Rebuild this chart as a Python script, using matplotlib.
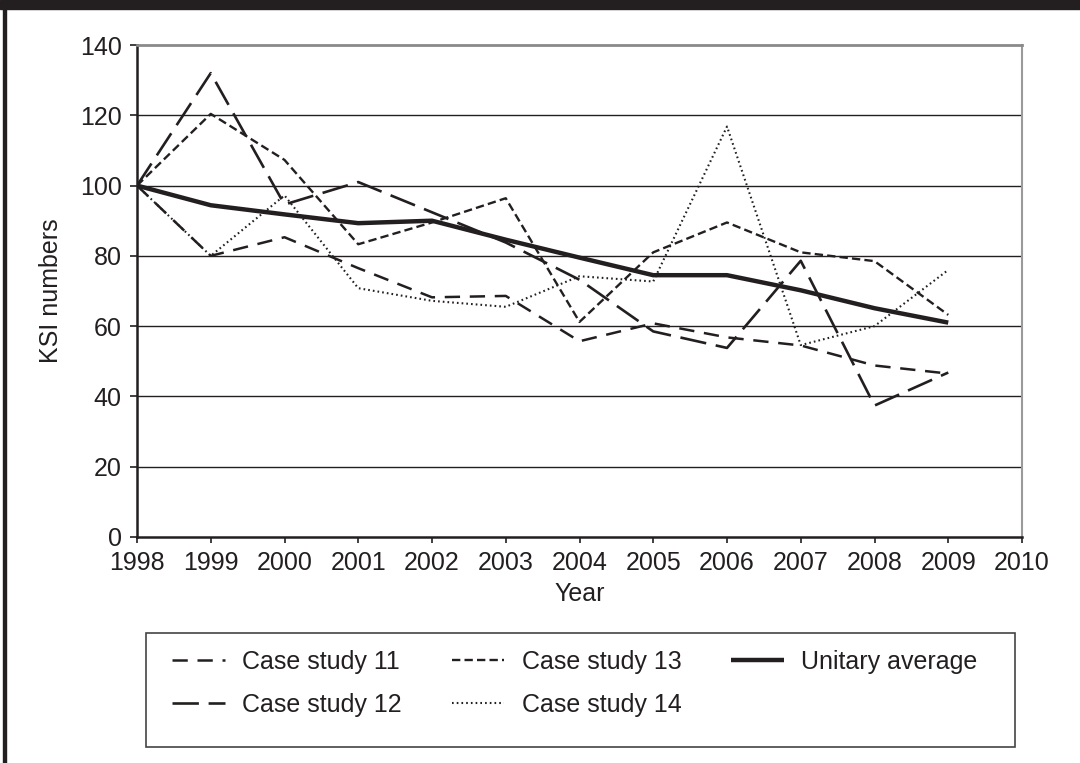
import matplotlib
matplotlib.use("Agg")
import matplotlib.pyplot as plt
from matplotlib.patches import Rectangle

plt.rcParams['font.family'] = ['Liberation Sans', 'DejaVu Sans']
plt.rcParams['lines.scale_dashes'] = False

ink = '#231f20'

years = [1998, 1999, 2000, 2001, 2002, 2003, 2004, 2005, 2006, 2007, 2008, 2009]
case11 = [100, 80, 85.3, 76.5, 68.2, 68.6, 55.7, 60.8, 56.8, 54.5, 48.8, 46.5]
case12 = [100, 132, 94.6, 101, 92.4, 83.8, 73.2, 58.5, 53.8, 78.6, 37.4, 46.8]
case13 = [100, 120.4, 107.3, 83.3, 89.5, 96.4, 61.2, 81, 89.5, 81, 78.5, 63.2]
case14 = [100, 80, 97.2, 70.8, 67.2, 65.5, 74.2, 72.7, 116.8, 54.6, 60, 76]
unitary = [100, 94.4, 91.8, 89.3, 90, 84.6, 79.5, 74.5, 74.5, 70.2, 65.1, 61]

xticks = list(range(1998, 2011))
yticks = list(range(0, 141, 20))

fig = plt.figure(figsize=(10.8, 7.63), dpi=100)
ax = fig.add_axes([137/1080, 1-537/763, (1022-137)/1080, (537-45)/763])

# frame decorations of the original page
fig.patches.append(Rectangle((0, 1-9/763), 1, 9/763, transform=fig.transFigure,
                             color=ink, zorder=0))
fig.patches.append(Rectangle((3/1080, 0), 3/1080, 1, transform=fig.transFigure,
                             color=ink, zorder=0))

ax.plot(years, case11, color=ink, lw=1.8, dashes=(11, 7), label='Case study 11')
ax.plot(years, case12, color=ink, lw=1.9, dashes=(19, 7), label='Case study 12')
ax.plot(years, case13, color=ink, lw=1.7, dashes=(6, 3), label='Case study 13')
ax.plot(years, case14, color=ink, lw=1.5, dashes=(1.2, 2.2), label='Case study 14')
ax.plot(years, unitary, color=ink, lw=3.2, solid_capstyle='butt', label='Unitary average')

ax.set_xlim(1998, 2010)
ax.set_ylim(0, 140)
ax.set_xticks(xticks)
ax.set_yticks(yticks)
ax.tick_params(labelsize=18, colors=ink, direction='out', width=1.2)
ax.tick_params(axis='y', length=5, pad=6)
ax.tick_params(axis='x', length=4, pad=6)

for y in yticks[1:-1]:
    ax.axhline(y, color=ink, lw=1.0, zorder=0)
ax.spines['top'].set_color('#8a8a8a')
ax.spines['top'].set_linewidth(2)
ax.spines['right'].set_color('#9a9a9a')
ax.spines['right'].set_linewidth(1.5)
ax.spines['left'].set_color(ink)
ax.spines['left'].set_linewidth(1.8)
ax.spines['bottom'].set_color(ink)
ax.spines['bottom'].set_linewidth(1.8)

ax.set_xlabel('Year', fontsize=18, color=ink, labelpad=5)
ax.set_ylabel('KSI numbers', fontsize=18, color=ink, labelpad=12)

fig.patches.append(Rectangle((146/1080, 1-747/763), (1015-146)/1080, (747-633)/763,
                             transform=fig.transFigure, fill=False,
                             edgecolor='#444444', lw=1.2))
fig.legend(loc='upper left', bbox_to_anchor=(172/1080, 1-650/763), ncol=3,
           frameon=False, fontsize=18, borderpad=0, borderaxespad=0,
           handlelength=2.1, handletextpad=0.7, columnspacing=2.0,
           labelspacing=0.75, labelcolor=ink)

fig.savefig('out.png', dpi=100)
